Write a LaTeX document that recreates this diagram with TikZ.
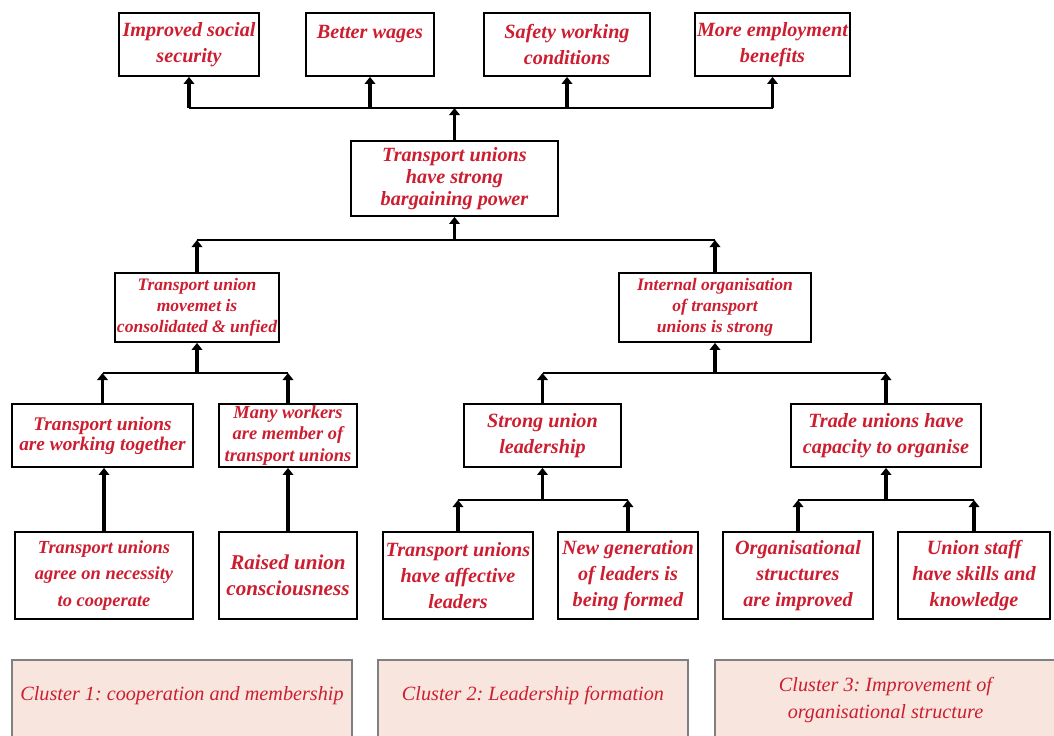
\documentclass[tikz,border=0pt]{standalone}
\usepackage{fontspec}
\setmainfont{Liberation Serif}
\usetikzlibrary{arrows.meta,
                positioning}
\definecolor{boxred}{RGB}{204,30,48}
\definecolor{clusterpink}{RGB}{248,230,222}
\tikzset{goal/.style =
   {rectangle,
    draw,
    line width=1pt,
    text=boxred,
    align=center,
    inner sep=1pt,
    minimum height=1.26cm,
    font=\fontsize{11.5}{14.7}\selectfont\bfseries\itshape}}
\tikzset{goal-small/.style =
   {goal,
    font=\fontsize{10}{12}\selectfont\bfseries\itshape}}
\tikzset{cluster/.style =
   {rectangle,
    draw=gray,
    fill=clusterpink,
    line width=0.8pt,
    text=boxred,
    align=center,
    inner sep=1pt,
    minimum height=1.6cm,
    font=\fontsize{11.5}{15}\selectfont\itshape\frenchspacing}}
\tikzset{uparrow/.style = {draw, line width=1.9pt, -{Triangle[length=4pt,width=6pt]}}}
\tikzset{bus/.style = {draw, line width=1.1pt}}

\begin{document}
\begin{tikzpicture}[x=0.02cm, y=-0.02cm]

    \useasboundingbox (0,0) rectangle (1054,735);

    % top row: outcomes
    \node [goal, minimum width=2.80cm] (imp) at (189,44.5) {Improved social\\security};
    \node [goal, minimum width=2.56cm] (wage) at (370,44.5) {Better wages\\\mbox{}};
    \node [goal, minimum width=3.32cm] (safe) at (567,44.5) {Safety working\\conditions};
    \node [goal, minimum width=3.02cm] (ben) at (772.5,44.5) {More employment\\benefits};

    \node [goal,
           minimum width=4.14cm,
           minimum height=1.50cm,
           font=\fontsize{11.5}{12.4}\selectfont\bfseries\itshape] (power) at (454.5,178.5)
          {Transport unions\\have strong\\bargaining power};

    % second level
    \node [goal-small, minimum width=3.28cm, minimum height=1.38cm] (unify) at (197,307.5)
          {Transport union\\movemet is\\consolidated \& unfied};
    \node [goal-small, minimum width=3.84cm, minimum height=1.38cm] (inorg) at (715,307.5)
          {Internal organisation\\of transport\\unions is strong};

    % third level
    \node [goal,
           minimum width=3.62cm,
           font=\fontsize{11}{11.5}\selectfont\bfseries\itshape] (together) at (102.5,435.5)
          {Transport unions\\are working together};
    \node [goal-small,
           minimum width=2.76cm,
           font=\fontsize{10.5}{12}\selectfont\bfseries\itshape] (members) at (288,435.5)
          {Many workers\\are member of\\transport unions};
    \node [goal, minimum width=3.14cm] (leader) at (542.5,435.5) {Strong union\\leadership};
    \node [goal, minimum width=3.80cm] (capacity) at (886,435.5) {Trade unions have\\capacity to organise};

    % bottom level
    \node [goal,
           minimum width=3.56cm,
           minimum height=1.74cm,
           font=\fontsize{10.5}{15}\selectfont\bfseries\itshape] (coop) at (104,575.5)
          {Transport unions\\agree on necessity\\to cooperate};
    \node [goal, minimum width=2.76cm, minimum height=1.74cm,
           font=\fontsize{12}{15}\selectfont\bfseries\itshape] (conscious) at (288,575.5)
          {Raised union\\consciousness};
    \node [goal, minimum width=3.00cm, minimum height=1.74cm] (affective) at (458,575.5)
          {Transport unions\\have affective\\leaders};
    \node [goal, minimum width=2.80cm, minimum height=1.74cm] (newgen) at (628,575.5)
          {New generation\\of leaders is\\being formed};
    \node [goal, minimum width=3.00cm, minimum height=1.74cm] (structs) at (798,575.5)
          {Organisational\\structures\\are improved};
    \node [goal, minimum width=3.04cm, minimum height=1.74cm] (staff) at (974,575.5)
          {Union staff\\have skills and\\knowledge};

    % clusters
    \node [cluster, minimum width=6.80cm] (clus1) at (182,700)
          {Cluster 1: cooperation and membership\\[-8pt]\mbox{}};
    \node [cluster, minimum width=6.20cm] (clus2) at (533,700)
          {Cluster 2: Leadership formation\\[-8pt]\mbox{}};
    \node [cluster, minimum width=6.82cm] (clus3) at (885.5,700)
          {Cluster 3: Improvement of\\organisational structure};

    % junctions
    \coordinate (bus0) at (454.5,108);
    \coordinate (bus1) at (454.5,240);
    \coordinate (bus2) at (197,373);
    \coordinate (bus3) at (715,373);
    \coordinate (bus4) at (542.5,500);
    \coordinate (bus5) at (886,500);

    % connectors
    \draw [uparrow] (power.north) -- (bus0);
    \draw [bus] (imp.south |- bus0) -- (ben.south |- bus0);
    \foreach \n in {imp, wage, safe, ben}
        \draw [uparrow] (\n.south |- bus0) -- (\n.south);

    \draw [uparrow] (bus1) -- (power.south);
    \draw [bus] (unify.north |- bus1) -- (inorg.north |- bus1);
    \foreach \n in {unify, inorg}
        \draw [uparrow] (\n.north) -- (\n.north |- bus1);

    \draw [uparrow] (bus2) -- (unify.south);
    \draw [bus] (together.north |- bus2) -- (members.north |- bus2);
    \foreach \n in {together, members}
        \draw [uparrow] (\n.north) -- (\n.north |- bus2);

    \draw [uparrow] (bus3) -- (inorg.south);
    \draw [bus] (leader.north |- bus3) -- (capacity.north |- bus3);
    \foreach \n in {leader, capacity}
        \draw [uparrow] (\n.north) -- (\n.north |- bus3);

    \draw [uparrow] (coop.north) -- (coop.north |- together.south);
    \draw [uparrow] (conscious.north) -- (members.south);

    \draw [uparrow] (bus4) -- (leader.south);
    \draw [bus] (affective.north |- bus4) -- (newgen.north |- bus4);
    \foreach \n in {affective, newgen}
        \draw [uparrow] (\n.north) -- (\n.north |- bus4);

    \draw [uparrow] (bus5) -- (capacity.south);
    \draw [bus] (structs.north |- bus5) -- (staff.north |- bus5);
    \foreach \n in {structs, staff}
        \draw [uparrow] (\n.north) -- (\n.north |- bus5);

\end{tikzpicture}
\end{document}
